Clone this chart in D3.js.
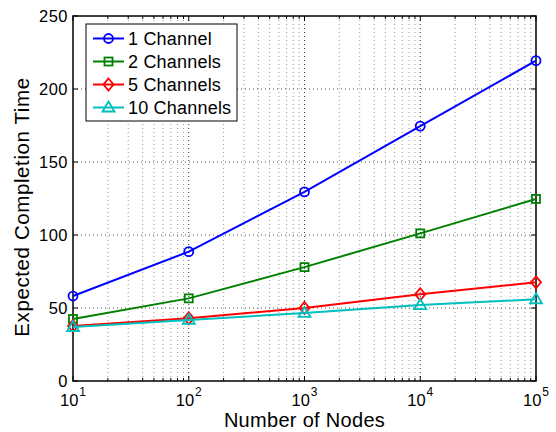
<!DOCTYPE html>
<html>
<head>
<meta charset="utf-8">
<script src="https://cdn.jsdelivr.net/npm/d3@7"></script>
<style>
  body { margin: 0; background: #fff; }
  text { font-family: "Liberation Sans", Arial, sans-serif; fill: #000; }
</style>
</head>
<body>
<script>
// data
var nodes = [10, 100, 1000, 10000, 100000];
var oneChannel = [58.2, 88.6, 129.5, 174.6, 219.4];
var twoChannels = [42.5, 56.6, 78, 101.1, 124.7];
var fiveChannels = [37.7, 43, 50, 59.4, 67.6];
var tenChannels = [37, 41.8, 46.6, 52, 56];
var seriesNames = ["1 Channel", "2 Channels", "5 Channels", "10 Channels"];
var seriesColors = ["#0000ff", "#008000", "#ff0000", "#00bfbf"];
var seriesMarkers = ["circle", "square", "diamond", "triangle"];
var yTicks = [0, 50, 100, 150, 200, 250];
var xTicks = [1, 2, 3, 4, 5]; // exponents

var width = 556, height = 432;
var margin = {top: 16, right: 20, bottom: 51, left: 73};
var innerW = width - margin.left - margin.right,
    innerH = height - margin.top - margin.bottom;

var svg = d3.select("body").append("svg")
    .attr("width", width)
    .attr("height", height);

var g = svg.append("g")
    .attr("transform", "translate(" + margin.left + "," + margin.top + ")");

var x = d3.scaleLog().domain([10, 100000]).range([0, innerW]);
var y = d3.scaleLinear().domain([0, 250]).range([innerH, 0]);

// minor log positions
var minorX = [];
for (var e = 1; e < 5; e++) {
    for (var m = 2; m <= 9; m++) minorX.push(m * Math.pow(10, e));
}

// grid lines
g.selectAll(".minorGrid").data(minorX).enter().append("line")
    .attr("x1", function (d) { return x(d); })
    .attr("x2", function (d) { return x(d); })
    .attr("y1", 0).attr("y2", innerH)
    .style("stroke", "#999").style("stroke-width", 1)
    .style("stroke-dasharray", "1,3");

g.selectAll(".majorGridX").data(xTicks.slice(1, -1)).enter().append("line")
    .attr("x1", function (d) { return x(Math.pow(10, d)); })
    .attr("x2", function (d) { return x(Math.pow(10, d)); })
    .attr("y1", 0).attr("y2", innerH)
    .style("stroke", "#333").style("stroke-width", 1)
    .style("stroke-dasharray", "1,3");

g.selectAll(".majorGridY").data(yTicks.slice(1, -1)).enter().append("line")
    .attr("x1", 0).attr("x2", innerW)
    .attr("y1", function (d) { return y(d); })
    .attr("y2", function (d) { return y(d); })
    .style("stroke", "#555").style("stroke-width", 1)
    .style("stroke-dasharray", "1,3");

// ticks (inward, all four sides)
var tickG = g.append("g").style("stroke", "#000").style("stroke-width", 1);
yTicks.forEach(function (t) {
    tickG.append("line").attr("x1", 0).attr("x2", 5).attr("y1", y(t)).attr("y2", y(t));
    tickG.append("line").attr("x1", innerW).attr("x2", innerW - 5).attr("y1", y(t)).attr("y2", y(t));
});
xTicks.forEach(function (t) {
    var px = x(Math.pow(10, t));
    tickG.append("line").attr("x1", px).attr("x2", px).attr("y1", innerH).attr("y2", innerH - 5);
    tickG.append("line").attr("x1", px).attr("x2", px).attr("y1", 0).attr("y2", 5);
});
minorX.forEach(function (t) {
    var px = x(t);
    tickG.append("line").attr("x1", px).attr("x2", px).attr("y1", innerH).attr("y2", innerH - 3);
    tickG.append("line").attr("x1", px).attr("x2", px).attr("y1", 0).attr("y2", 3);
});

// axes box
g.append("rect")
    .attr("width", innerW).attr("height", innerH)
    .style("fill", "none").style("stroke", "#000").style("stroke-width", 1.5);

// y tick labels
g.selectAll(".yLabel").data(yTicks).enter().append("text")
    .attr("x", -5)
    .attr("y", function (d) { return y(d); })
    .attr("dy", "0.36em")
    .attr("text-anchor", "end")
    .style("font-size", "16.5px")
    .style("letter-spacing", "0.5px")
    .text(function (d) { return d; });

// x tick labels with superscript
xTicks.forEach(function (t) {
    var lbl = g.append("text")
        .attr("x", x(Math.pow(10, t)))
        .attr("y", innerH + 25)
        .attr("text-anchor", "middle")
        .style("font-size", "16.5px");
    lbl.append("tspan").text("10");
    lbl.append("tspan").attr("dy", "-10").attr("dx", "1").style("font-size", "12px").text(t);
});

// axis titles
svg.append("text")
    .attr("x", margin.left + innerW / 2)
    .attr("y", 427)
    .attr("text-anchor", "middle")
    .style("font-size", "20px")
    .style("letter-spacing", "0.3px")
    .text("Number of Nodes");

svg.append("text")
    .attr("transform", "translate(29,207) rotate(-90)")
    .attr("text-anchor", "middle")
    .style("font-size", "20.5px")
    .style("letter-spacing", "0.6px")
    .text("Expected Completion Time");

// series
var allSeries = [oneChannel, twoChannels, fiveChannels, tenChannels];
var line = d3.line()
    .x(function (d, i) { return x(nodes[i]); })
    .y(function (d) { return y(d); });

function drawMarker(sel, type, color, cx, cy) {
    if (type === "circle") {
        sel.append("circle").attr("cx", cx).attr("cy", cy).attr("r", 4.5)
            .style("fill", "none").style("stroke", color).style("stroke-width", 1.8);
    } else if (type === "square") {
        sel.append("rect").attr("x", cx - 4).attr("y", cy - 4).attr("width", 8).attr("height", 8)
            .style("fill", "none").style("stroke", color).style("stroke-width", 1.8);
    } else if (type === "diamond") {
        sel.append("path")
            .attr("d", "M" + cx + "," + (cy - 6) + "L" + (cx + 5) + "," + cy + "L" + cx + "," + (cy + 6) + "L" + (cx - 5) + "," + cy + "Z")
            .style("fill", "none").style("stroke", color).style("stroke-width", 1.8);
    } else {
        sel.append("path")
            .attr("d", "M" + cx + "," + (cy - 6) + "L" + (cx + 6) + "," + (cy + 4) + "L" + (cx - 6) + "," + (cy + 4) + "Z")
            .style("fill", "none").style("stroke", color).style("stroke-width", 1.8);
    }
}

allSeries.forEach(function (vals, s) {
    g.append("path")
        .datum(vals)
        .attr("d", line)
        .style("fill", "none")
        .style("stroke", seriesColors[s])
        .style("stroke-width", 2);
    var mg = g.append("g");
    vals.forEach(function (v, i) {
        drawMarker(mg, seriesMarkers[s], seriesColors[s], x(nodes[i]), y(v));
    });
});

// legend
var legend = svg.append("g").attr("transform", "translate(86,24)");
legend.append("rect")
    .attr("width", 151).attr("height", 97)
    .style("fill", "#fff").style("stroke", "#000").style("stroke-width", 1);
seriesNames.forEach(function (name, s) {
    var ly = 14.5 + s * 23;
    legend.append("line")
        .attr("x1", 7).attr("x2", 38).attr("y1", ly).attr("y2", ly)
        .style("stroke", seriesColors[s]).style("stroke-width", 2);
    drawMarker(legend, seriesMarkers[s], seriesColors[s], 22.5, ly);
    legend.append("text")
        .attr("x", 42).attr("y", ly).attr("dy", "0.36em")
        .style("font-size", "18px")
        .style("letter-spacing", "0.2px")
        .text(name);
});
</script>
</body>
</html>
